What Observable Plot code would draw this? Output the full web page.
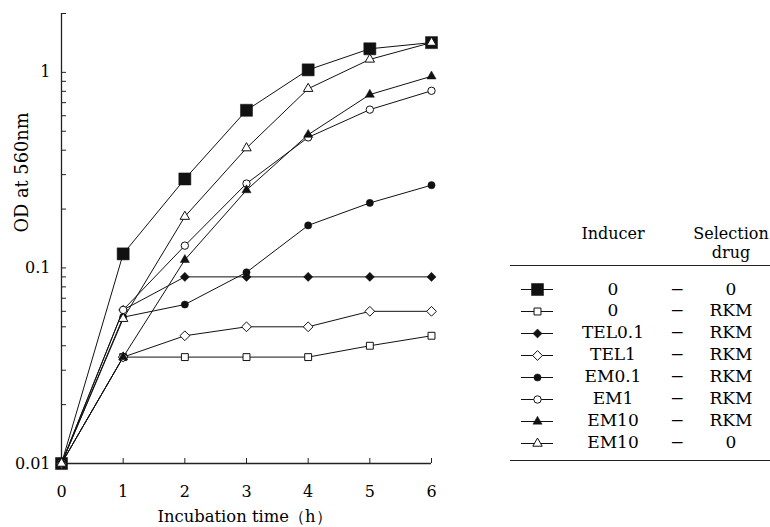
<!DOCTYPE html>
<html>
<head>
<meta charset="utf-8">
<script src="https://cdn.jsdelivr.net/npm/d3@7"></script>
<script src="https://cdn.jsdelivr.net/npm/@observablehq/plot@0.6"></script>
<style>
  html, body { margin: 0; padding: 0; background: #fff; }
  #wrap { position: relative; width: 770px; height: 527px; overflow: hidden; background: #fff; font-family: "DejaVu Serif", serif; }
  #chart { position: absolute; left: 0; top: 0; }
  #legend { position: absolute; left: 510px; top: 225px; width: 260px; border-collapse: collapse; font-size: 17px; color: #000; table-layout: fixed; }
  #legend th { font-weight: normal; vertical-align: top; font-size: 16px; line-height: 18.5px; padding: 0 0 3px 0; border-bottom: 1.5px solid #222; text-align: center; }
  #legend td { padding: 0; height: 21.9px; line-height: 21.9px; text-align: center; white-space: nowrap; }
  #legend tr.spacer td { height: 12.5px; line-height: 12.5px; }
  #legend tr.endpad td { height: 6px; line-height: 6px; border-bottom: 1.5px solid #222; }
  #legend td.sym svg { display: block; margin: 0 0 0 11px; }
</style>
</head>
<body>
<div id="wrap">
  <div id="chart"></div>
  <table id="legend">
    <colgroup><col style="width:54px"><col style="width:98px"><col style="width:30px"><col style="width:78px"></colgroup>
  </table>
</div>
<script>
// ---- data ----
const times = [0, 1, 2, 3, 4, 5, 6];
const inducers = ["0", "0", "TEL0.1", "TEL1", "EM0.1", "EM1", "EM10", "EM10"];
const selectionDrugs = ["0", "RKM", "RKM", "RKM", "RKM", "RKM", "RKM", "0"];
const od_0_0       = [0.01, 0.118, 0.285, 0.64, 1.03, 1.32, 1.42];
const od_0_RKM     = [0.01, 0.035, 0.035, 0.035, 0.035, 0.040, 0.045];
const od_TEL01_RKM = [0.01, 0.061, 0.09, 0.09, 0.09, 0.09, 0.09];
const od_TEL1_RKM  = [0.01, 0.035, 0.045, 0.05, 0.05, 0.06, 0.06];
const od_EM01_RKM  = [0.01, 0.056, 0.065, 0.095, 0.165, 0.215, 0.265];
const od_EM1_RKM   = [0.01, 0.061, 0.13, 0.27, 0.465, 0.645, 0.805];
const od_EM10_RKM  = [0.01, 0.035, 0.11, 0.25, 0.48, 0.77, 0.955];
const od_EM10_0    = [0.01, 0.055, 0.183, 0.41, 0.825, 1.165, 1.42];
const yMajorTicks = [0.01, 0.1, 1];
const yMinorTicks = [0.02, 0.03, 0.04, 0.05, 0.06, 0.07, 0.08, 0.09, 0.2, 0.3, 0.4, 0.5, 0.6, 0.7, 0.8, 0.9, 2];
const xTicks = [0, 1, 2, 3, 4, 5, 6];
const xLabel = "Incubation time（h）";
const yLabel = "OD at 560nm";
const headInducer = "Inducer";
const headSelection = ["Selection", "drug"];

// ---- styles per series ----
const seriesValues = [od_0_0, od_0_RKM, od_TEL01_RKM, od_TEL1_RKM, od_EM01_RKM, od_EM1_RKM, od_EM10_RKM, od_EM10_0];
const styles = [
  {symbol: "square", r: 6.8, fill: "#111"},
  {symbol: "square", r: 3.9, fill: "white"},
  {symbol: "diamond2", r: 4.1, fill: "#111"},
  {symbol: "diamond2", r: 4.4, fill: "white"},
  {symbol: "circle", r: 3.6, fill: "#111"},
  {symbol: "circle", r: 3.7, fill: "white"},
  {symbol: "triangle", r: 3.4, fill: "#111"},
  {symbol: "triangle", r: 3.5, fill: "white"}
];

const series = seriesValues.map((vals, i) => ({
  key: i,
  rows: times.map((t, j) => ({t, od: vals[j], key: i}))
}));
const allRows = series.flatMap(s => s.rows);

const chart = Plot.plot({
  width: 770,
  height: 527,
  marginLeft: 61,
  marginRight: 339,
  marginTop: 13,
  marginBottom: 64,
  x: {domain: [0, 6]},
  y: {type: "log", domain: [0.01, 2]},
  style: {fontFamily: "DejaVu Serif", fontSize: "16px", background: "white", color: "#000", overflow: "visible"},
  marks: [
    Plot.ruleX([0], {stroke: "#222", strokeWidth: 1.3}),
    Plot.ruleY([0.01], {stroke: "#222", strokeWidth: 1.3}),
    Plot.axisY({ticks: yMajorTicks, tickSize: 0, tickPadding: 11, tickFormat: d => String(d), label: null, fontSize: 16, fill: "#000"}),
    Plot.axisY({ticks: yMajorTicks.concat(yMinorTicks), tickSize: -5, tickFormat: () => "", label: null, stroke: "#222"}),
    Plot.axisX({ticks: xTicks, tickSize: 0, tickPadding: 22, tickFormat: d => String(d), label: null, fontSize: 16, fill: "#000"}),
    Plot.axisX({ticks: xTicks, tickSize: -5, tickFormat: () => "", label: null, stroke: "#222"}),
    Plot.text([xLabel], {frameAnchor: "bottom", dy: 58, dx: -2, fontSize: 16.4, fill: "#000"}),
    Plot.text([yLabel], {frameAnchor: "left", textAnchor: "middle", rotate: -90, dx: -39, dy: -66, fontSize: 17.8, fill: "#000"}),
    Plot.line(allRows, {x: "t", y: "od", z: "key", stroke: "#111", strokeWidth: 1}),
    ...series.map((s, i) => Plot.dot(s.rows, {
      x: "t", y: "od",
      symbol: styles[i].symbol, r: styles[i].r,
      fill: styles[i].fill, stroke: "#111", strokeWidth: styles[i].fill === "white" ? 1 : 0.5
    }))
  ]
});
document.getElementById("chart").appendChild(chart);

// ---- legend table ----
const table = document.getElementById("legend");
const head = document.createElement("tr");
head.innerHTML = `<th></th><th>${headInducer}</th><th></th><th>${headSelection[0]}<br>${headSelection[1]}</th>`;
table.appendChild(head);
const spacer = document.createElement("tr");
spacer.className = "spacer";
spacer.innerHTML = "<td></td><td></td><td></td><td></td>";
table.appendChild(spacer);

inducers.forEach((ind, i) => {
  const tr = document.createElement("tr");
  const tdSym = document.createElement("td");
  tdSym.className = "sym";
  const glyph = Plot.plot({
    width: 32, height: 20, margin: 0,
    x: {domain: [-1, 1], axis: null},
    y: {domain: [-1, 1], axis: null},
    style: {background: "transparent", overflow: "visible"},
    marks: [
      Plot.ruleY([0], {stroke: "#111", strokeWidth: 1}),
      Plot.dot([0], {x: d => d, y: d => d, symbol: styles[i].symbol, r: styles[i].r,
        fill: styles[i].fill, stroke: "#111", strokeWidth: styles[i].fill === "white" ? 1 : 0.5})
    ]
  });
  tdSym.appendChild(glyph);
  tr.appendChild(tdSym);
  const tdInd = document.createElement("td");
  tdInd.textContent = ind;
  tr.appendChild(tdInd);
  const tdDash = document.createElement("td");
  tdDash.textContent = "−";
  tr.appendChild(tdDash);
  const tdSel = document.createElement("td");
  tdSel.textContent = selectionDrugs[i];
  tr.appendChild(tdSel);
  table.appendChild(tr);
});
const endpad = document.createElement("tr");
endpad.className = "endpad";
endpad.innerHTML = "<td></td><td></td><td></td><td></td>";
table.appendChild(endpad);
</script>
</body>
</html>
